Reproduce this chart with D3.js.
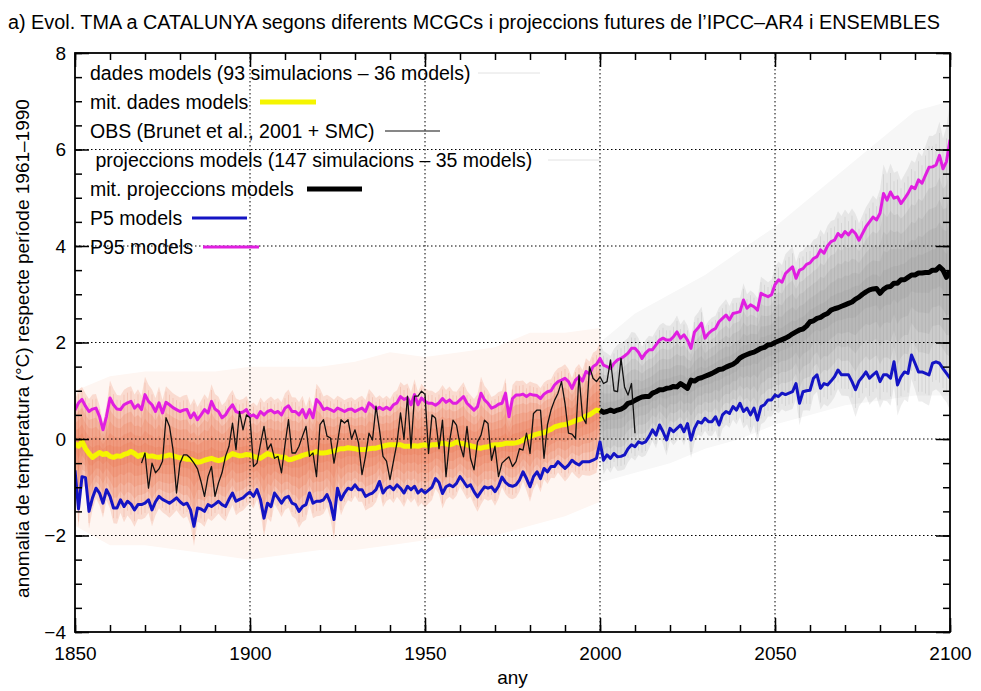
<!DOCTYPE html>
<html><head><meta charset="utf-8">
<script src="https://cdn.jsdelivr.net/npm/d3@7"></script>
<style>body{margin:0;background:#fff}svg{display:block}text{font-family:"Liberation Sans",Arial,Helvetica,sans-serif;fill:#000}</style>
</head><body><svg id="c" width="981" height="691"></svg>
<script>
// ---------------- data ----------------
const titleText = "a) Evol. TMA a CATALUNYA segons diferents MCGCs i projeccions futures de l’IPCC–AR4 i ENSEMBLES";
const xLabel = "any";
const yLabel = "anomalia de temperatura (°C) respecte període 1961–1990";
const xTickValues = [1850, 1900, 1950, 2000, 2050, 2100];
const yTickValues = [-4, -2, 0, 2, 4, 6, 8];
const legendLabels = [
  "dades models (93 simulacions – 36 models)",
  "mit. dades models",
  "OBS (Brunet et al., 2001 + SMC)",
  " projeccions models (147 simulacions – 35 models)",
  "mit. projeccions models",
  "P5 models",
  "P95 models"
];

// P95 / P5 of all models, annual 1850..2100
const pctStart = 1850;
const p95 = [
  0.6,0.75,0.82,0.68,0.57,0.62,0.64,0.47,0.19,0.47,
  0.85,0.71,0.62,0.61,0.71,0.75,0.78,0.64,0.71,0.61,
  0.92,0.78,0.71,0.57,0.75,0.54,0.76,0.71,0.65,0.61,
  0.57,0.6,0.61,0.44,0.54,0.40,0.5,0.61,0.54,0.78,
  0.62,0.57,0.44,0.50,0.62,0.71,0.57,0.54,0.56,0.61,
  0.47,
  0.5,0.44,0.57,0.5,0.57,0.6,0.54,0.57,0.5,0.64,
  0.69,0.57,0.57,0.5,0.61,0.44,0.61,0.44,0.82,0.74,
  0.61,0.64,0.61,0.57,0.64,0.61,0.57,0.61,0.62,0.57,
  0.61,0.64,0.57,0.75,0.69,0.61,0.66,0.61,0.66,0.61,
  0.71,0.75,0.88,0.82,0.85,0.71,0.92,0.71,0.85,0.78,
  0.74,0.74,0.7,0.75,0.84,0.76,0.81,0.74,0.74,0.81,
  0.88,0.74,0.67,0.6,0.67,0.95,0.81,0.74,0.64,0.67,
  0.72,0.74,0.95,0.46,0.84,0.91,0.91,0.93,0.88,0.93,
  0.91,0.9,0.84,0.93,0.98,1.0,1.12,1.19,1.22,1.26,
  1.19,1.05,1.22,1.29,1.2,1.4,1.35,1.5,1.55,1.67,
  1.53,1.5,1.46,1.57,1.64,1.67,1.72,1.78,1.88,1.88,
  1.8,1.67,1.78,1.85,1.85,1.95,2.05,2.09,2.05,2.05,
  2.12,2.22,2.09,2.16,2.05,1.88,2.22,2.3,2.4,2.09,
  2.19,2.25,2.29,2.43,2.5,2.57,2.47,2.6,2.62,2.64,
  2.88,2.71,2.78,2.74,2.67,3.02,2.98,2.95,2.99,3.2,
  3.3,3.25,3.43,3.5,3.57,3.33,3.5,3.53,3.62,3.65,
  3.74,3.78,3.92,3.85,4.0,4.09,4.12,4.26,4.19,4.3,
  4.23,4.33,4.26,4.12,4.26,4.4,4.5,4.6,4.54,4.68,
  5.09,4.95,5.12,4.99,5.02,4.88,4.98,5.09,5.23,5.19,
  5.37,5.3,5.47,5.63,5.64,5.68,5.88,5.6,5.75,6.2
];
const p5 = [
  -0.65,-1.45,-0.78,-0.8,-1.5,-1.22,-1.02,-1.12,-1.33,-1.05,
  -1.19,-1.43,-1.43,-1.26,-1.4,-1.29,-1.35,-1.47,-1.36,-1.36,
  -1.33,-1.26,-1.47,-1.3,-1.19,-1.25,-1.29,-1.33,-1.28,-1.22,
  -1.3,-1.36,-1.33,-1.47,-1.81,-1.43,-1.45,-1.5,-1.36,-1.4,
  -1.35,-1.29,-1.36,-1.4,-1.25,-1.12,-1.29,-1.25,-1.22,-1.15,
  -1.1,
  -1.19,-1.05,-1.26,-1.64,-1.33,-1.4,-1.12,-1.22,-1.33,-1.22,
  -1.19,-1.33,-1.36,-1.5,-1.4,-1.36,-1.12,-1.33,-1.29,-1.29,
  -1.26,-1.15,-1.33,-1.67,-1.02,-1.26,-1.12,-1.02,-1.05,-0.95,
  -1.05,-1.05,-1.19,-1.15,-1.12,-1.05,-0.88,-1.12,-1.02,-0.98,
  -1.05,-0.95,-1.02,-1.12,-0.98,-1.05,-0.98,-1.12,-1.05,-1.12,
  -1.06,-1.0,-0.82,-0.9,-1.13,-0.99,-0.95,-0.99,-0.92,-0.78,
  -0.88,-0.99,-0.95,-1.09,-1.2,-1.09,-0.99,-1.02,-0.99,-1.09,
  -0.98,-0.79,-0.9,-0.96,-0.98,-0.95,-0.85,-0.68,-0.82,-0.99,
  -0.78,-0.68,-0.82,-0.61,-0.68,-0.57,-0.57,-0.47,-0.54,-0.61,
  -0.54,-0.44,-0.5,-0.54,-0.47,-0.47,-0.47,-0.44,-0.4,-0.06,
  -0.44,-0.33,-0.4,-0.3,-0.37,-0.36,-0.33,-0.2,-0.12,-0.16,
  -0.06,-0.09,-0.06,0.05,0.19,0.08,0.29,0.15,-0.02,0.22,
  0.15,0.22,0.29,0.15,0.32,-0.02,0.22,0.36,0.33,0.43,
  0.36,0.36,0.46,0.29,0.5,0.57,0.53,0.67,0.6,0.74,
  0.57,0.64,0.5,0.64,0.39,0.67,0.71,0.81,0.81,0.91,
  0.88,0.95,0.92,0.95,0.98,1.15,0.74,0.98,1.0,1.01,
  1.26,1.33,1.05,1.15,1.12,1.2,1.29,1.43,1.33,1.33,
  1.33,1.19,1.02,1.2,1.29,1.39,1.26,1.33,1.39,1.19,
  1.33,1.33,1.26,1.6,1.12,1.29,1.39,1.36,1.74,1.57,
  1.39,1.39,1.36,1.33,1.57,1.6,1.57,1.46,1.36,1.26
];
// mean of historical model runs, 1850..2000
const histMeanStart = 1850;
const histMean = [
  -0.1,-0.15,-0.05,-0.2,-0.3,-0.38,-0.33,-0.28,-0.32,-0.3,
  -0.36,-0.38,-0.35,-0.36,-0.32,-0.3,-0.26,-0.3,-0.36,-0.33,
  -0.32,-0.36,-0.35,-0.37,-0.38,-0.36,-0.35,-0.33,-0.35,-0.37,
  -0.39,-0.4,-0.42,-0.42,-0.45,-0.48,-0.47,-0.44,-0.42,-0.4,
  -0.43,-0.45,-0.43,-0.4,-0.35,-0.3,-0.33,-0.35,-0.34,-0.32,
  -0.33,-0.36,-0.38,-0.4,-0.35,-0.3,-0.33,-0.36,-0.36,-0.38,
  -0.38,-0.43,-0.42,-0.39,-0.37,-0.34,-0.32,-0.3,-0.29,-0.26,
  -0.29,-0.29,-0.28,-0.26,-0.25,-0.22,-0.2,-0.2,-0.18,-0.19,
  -0.2,-0.22,-0.22,-0.22,-0.2,-0.19,-0.19,-0.17,-0.15,-0.13,
  -0.12,-0.12,-0.12,-0.12,-0.15,-0.15,-0.15,-0.14,-0.15,-0.13,
  -0.12,-0.14,-0.12,-0.12,-0.1,-0.09,-0.1,-0.12,-0.1,-0.06,
  -0.09,-0.1,-0.12,-0.14,-0.16,-0.18,-0.19,-0.17,-0.16,-0.13,
  -0.12,-0.12,-0.11,-0.09,-0.09,-0.09,-0.08,-0.06,-0.02,0.03,
  0.05,0.08,0.1,0.12,0.13,0.17,0.2,0.25,0.27,0.29,
  0.3,0.32,0.35,0.38,0.4,0.43,0.48,0.5,0.55,0.6,
  0.58
];
// mean of projections, 2000..2100
const projMeanStart = 2000;
const projMean = [
  0.6,0.55,0.57,0.6,0.57,0.6,0.62,0.66,0.74,0.76,
  0.8,0.84,0.87,0.88,0.88,0.95,0.98,1.02,1.02,1.05,
  1.06,1.09,1.08,1.15,1.1,1.05,1.22,1.2,1.25,1.27,
  1.3,1.33,1.36,1.4,1.44,1.45,1.49,1.52,1.55,1.6,
  1.68,1.72,1.75,1.78,1.8,1.84,1.88,1.9,1.95,1.96,
  2.0,2.03,2.06,2.09,2.13,2.18,2.22,2.26,2.28,2.34,
  2.43,2.45,2.5,2.52,2.57,2.6,2.67,2.7,2.72,2.75,
  2.78,2.81,2.84,2.9,2.94,3.0,3.05,3.09,3.11,3.12,
  3.02,3.1,3.15,3.16,3.23,3.23,3.3,3.3,3.35,3.4,
  3.4,3.44,3.44,3.45,3.45,3.5,3.5,3.57,3.5,3.35,
  3.48
];
// observations, 1869..2010
const obsStart = 1869;
const obs = [
  -0.5,-0.29,-1.02,-0.5,-0.7,-0.62,-0.46,0.44,0.26,-0.22,
  -1.12,-0.5,-0.33,-0.33,-0.4,-0.5,-0.62,-0.88,-1.19,-0.78,
  -0.57,-1.19,-0.91,-0.7,-0.36,-0.15,0.33,-0.22,0.57,0.19,
  0.5,0.44,-0.57,-0.5,-0.1,0.26,-0.22,-0.1,-0.4,-0.36,
  -0.7,-0.12,0.4,-0.29,-0.29,-0.15,0.06,0.26,-0.36,-0.29,
  -0.78,0.3,0.4,0.06,0.02,-0.5,-0.08,0.4,0.33,0.4,
  0.0,0.19,-0.08,-0.74,-0.36,0.12,-0.02,0.68,0.19,-0.36,
  -0.46,-0.84,-0.46,-0.08,0.54,0.0,0.89,-0.19,0.89,0.89,
  0.99,0.93,-0.3,0.5,0.43,-0.2,0.39,-0.78,-0.06,0.39,
  0.29,-0.12,-0.37,0.26,-0.4,-0.64,-0.06,0.08,0.39,0.32,
  -0.44,-0.15,-0.78,-0.5,-0.43,-0.37,-0.57,-0.47,-0.2,-0.23,
  0.12,-0.3,0.53,0.6,0.6,-0.4,0.3,0.6,0.8,0.95,
  1.19,0.74,0.12,0.1,0.01,1.33,0.46,0.32,1.5,1.26,
  1.19,1.29,1.15,1.19,1.64,1.0,0.98,1.67,1.08,0.91,
  1.15,0.12
];
// outer extent of the individual runs (faint spaghetti), per decade
const envHistYears = [1850,1860,1870,1880,1890,1900,1910,1920,1930,1940,1950,1960,1970,1980,1990,2000];
const envHistMax   = [1.0,1.3,1.4,1.4,1.4,1.5,1.5,1.5,1.6,1.8,1.7,1.8,1.9,2.2,2.2,2.3];
const envHistMin   = [-1.8,-2.2,-2.2,-2.3,-2.4,-2.5,-2.4,-2.3,-2.3,-2.2,-2.1,-2.0,-2.0,-1.8,-1.6,-1.3];
const envProjYears = [2000,2010,2020,2030,2040,2050,2060,2070,2080,2090,2100];
const envProjMax   = [2.0,2.6,3.0,3.4,3.9,4.4,5.0,5.6,6.2,6.8,7.0];
const envProjMin   = [-0.9,-0.7,-0.5,-0.2,0.0,0.3,0.5,0.7,0.8,0.9,0.9];

// ---------------- drawing ----------------
const svg = d3.select("#c");
const L = 75, R = 950, T = 53, B = 632;
const x = d3.scaleLinear().domain([1850, 2100]).range([L, R]);
const y = d3.scaleLinear().domain([-4, 8]).range([B, T]);

const rows = (start, arr) => arr.map((v, i) => ({yr: start + i, v}));
const pctRows = p95.map((v, i) => ({yr: pctStart + i, hi: v, lo: p5[i]}));
const pctAt = yr => pctRows[yr - pctStart];

const plot = svg.append("g");
plot.append("clipPath").attr("id", "clip").append("rect").attr("x", L).attr("y", T).attr("width", R - L).attr("height", B - T);
const g = plot.append("g").attr("clip-path", "url(#clip)");

const area = d3.area().x(d => x(d.yr)).y0(d => y(d.lo)).y1(d => y(d.hi));

function bands(start, mean, outerYears, outerMax, outerMin, outerColor, color, alpha, streak) {
  const outer = outerYears.map((yr, i) => ({yr, lo: outerMin[i], hi: outerMax[i]}));
  g.append("path").datum(outer).attr("d", area).attr("fill", outerColor);
  const full = mean.map((m, i) => { const p = pctAt(start + i); return {yr: start + i, m, lo: p.lo, hi: p.hi}; });
  [1.3, 1.0, 0.8, 0.6, 0.4, 0.2].forEach(k => {
    const d = full.map(r => ({yr: r.yr, lo: r.m - k * (r.m - r.lo), hi: r.m + k * (r.hi - r.m)}));
    g.append("path").datum(d).attr("d", area).attr("fill", color).attr("fill-opacity", alpha);
  });
  // per-year streaks spanning the P5..P95 spread (texture of the individual runs)
  g.append("g").selectAll("line").data(full).enter().append("line")
    .attr("x1", r => x(r.yr)).attr("x2", r => x(r.yr))
    .attr("y1", r => y(r.m - 1.2 * (r.m - r.lo))).attr("y2", r => y(r.m + 1.2 * (r.hi - r.m)))
    .attr("stroke", streak).attr("stroke-width", 1).attr("stroke-opacity", 0.16);
}
bands(histMeanStart, histMean, envHistYears, envHistMax, envHistMin, "#fef6f2", "#e86c40", 0.19, "#d95a30");
bands(projMeanStart, projMean, envProjYears, envProjMax, envProjMin, "#f7f7f7", "#8c8c8c", 0.16, "#777");

// grid
const gridX = xTickValues.filter(v => v > 1850 && v < 2100);
const gridY = yTickValues.filter(v => v > -4 && v < 8);
g.selectAll(".gx").data(gridX).enter().append("line")
  .attr("x1", d => x(d)).attr("x2", d => x(d)).attr("y1", T).attr("y2", B)
  .attr("stroke", "#000").attr("stroke-width", 1).attr("stroke-dasharray", "1.5,2.5");
g.selectAll(".gy").data(gridY).enter().append("line")
  .attr("x1", L).attr("x2", R).attr("y1", d => y(d)).attr("y2", d => y(d))
  .attr("stroke", "#000").attr("stroke-width", 1).attr("stroke-dasharray", "1.5,2.5");

const line = d3.line().x(d => x(d.yr)).y(d => y(d.v));
g.append("path").datum(rows(pctStart, p5)).attr("d", line).attr("fill", "none").attr("stroke", "#1414c4").attr("stroke-width", 3).attr("stroke-linejoin", "round");
g.append("path").datum(rows(pctStart, p95)).attr("d", line).attr("fill", "none").attr("stroke", "#e01ee0").attr("stroke-width", 3).attr("stroke-linejoin", "round");
g.append("path").datum(rows(histMeanStart, histMean)).attr("d", line).attr("fill", "none").attr("stroke", "#f5f500").attr("stroke-width", 5).attr("stroke-linejoin", "round");
g.append("path").datum(rows(projMeanStart, projMean)).attr("d", line).attr("fill", "none").attr("stroke", "#000").attr("stroke-width", 5).attr("stroke-linejoin", "round");
g.append("path").datum(rows(obsStart, obs)).attr("d", line).attr("fill", "none").attr("stroke", "#111").attr("stroke-width", 1.3).attr("stroke-linejoin", "round");

// axes
const fs = 19;
function styleAxis(sel) {
  sel.select(".domain").remove();
  sel.selectAll(".tick line").attr("stroke", "#000").attr("stroke-width", 1.5);
  sel.selectAll("text").attr("font-size", fs).attr("fill", "#000").style("font-family", '"Liberation Sans",Arial,sans-serif');
}
const minorX = d3.range(1850, 2101, 10);
const minorY = d3.range(-4, 8.01, 0.5);
svg.append("g").attr("transform", `translate(0,${B})`).call(d3.axisBottom(x).tickValues(minorX).tickSize(-7).tickFormat("")).call(styleAxis);
svg.append("g").attr("transform", `translate(0,${B})`).call(d3.axisBottom(x).tickValues(xTickValues).tickSize(-14).tickPadding(15).tickFormat(d3.format("d"))).call(styleAxis);
svg.append("g").attr("transform", `translate(0,${T})`).call(d3.axisTop(x).tickValues(minorX).tickSize(-7).tickFormat("")).call(styleAxis);
svg.append("g").attr("transform", `translate(0,${T})`).call(d3.axisTop(x).tickValues(xTickValues).tickSize(-14).tickFormat("")).call(styleAxis);
svg.append("g").attr("transform", `translate(${L},0)`).call(d3.axisLeft(y).tickValues(minorY).tickSize(-7).tickFormat("")).call(styleAxis);
svg.append("g").attr("transform", `translate(${L},0)`).call(d3.axisLeft(y).tickValues(yTickValues).tickSize(-14).tickPadding(9).tickFormat(d => d < 0 ? "−" + Math.abs(d) : d)).call(styleAxis);
svg.append("g").attr("transform", `translate(${R},0)`).call(d3.axisRight(y).tickValues(minorY).tickSize(-7).tickFormat("")).call(styleAxis);
svg.append("g").attr("transform", `translate(${R},0)`).call(d3.axisRight(y).tickValues(yTickValues).tickSize(-14).tickFormat("")).call(styleAxis);
svg.append("rect").attr("x", L).attr("y", T).attr("width", R - L).attr("height", B - T).attr("fill", "none").attr("stroke", "#000").attr("stroke-width", 1.8);

// titles
svg.append("text").attr("x", 8).attr("y", 29).attr("font-size", 20).attr("textLength", 932).attr("lengthAdjust", "spacingAndGlyphs").text(titleText);
svg.append("text").attr("x", (L + R) / 2).attr("y", 684).attr("text-anchor", "middle").attr("font-size", 19).text(xLabel);
svg.append("text").attr("transform", `translate(29,${(T + B) / 2 + 6}) rotate(-90)`).attr("text-anchor", "middle").attr("font-size", 19).text(yLabel);

// legend
const legStyles = [
  {stroke: "#e2e2e2", w: 1, x1: 478, x2: 540},
  {stroke: "#f5f500", w: 5, x1: 260, x2: 316},
  {stroke: "#111", w: 1.2, x1: 385, x2: 440},
  {stroke: "#e2e2e2", w: 1, x1: 548, x2: 600},
  {stroke: "#000", w: 5, x1: 307, x2: 362},
  {stroke: "#1414c4", w: 3, x1: 192, x2: 247},
  {stroke: "#e01ee0", w: 3, x1: 203, x2: 259}
];
const leg = svg.append("g");
legendLabels.forEach((lab, i) => {
  const cy = 73 + i * 29;
  leg.append("text").attr("x", 90).attr("y", cy + 7).attr("font-size", 19.5).attr("xml:space", "preserve").text(lab);
  const s = legStyles[i];
  leg.append("line").attr("x1", s.x1).attr("x2", s.x2).attr("y1", cy).attr("y2", cy).attr("stroke", s.stroke).attr("stroke-width", s.w);
});
</script></body></html>
